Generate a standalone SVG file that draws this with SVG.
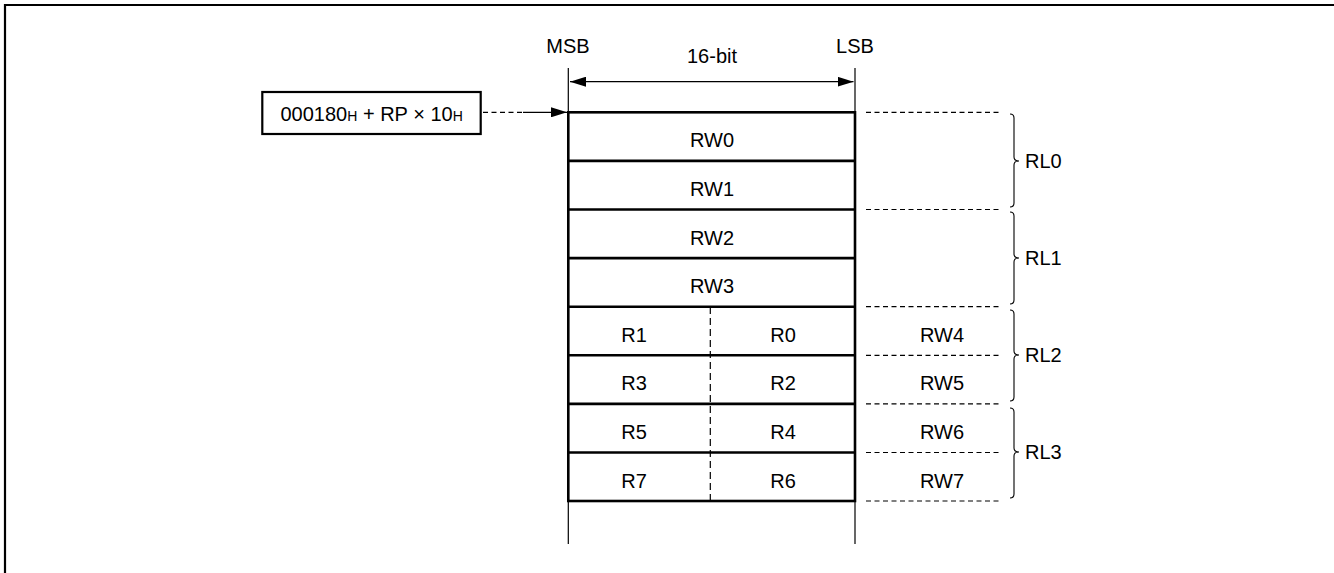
<svg xmlns="http://www.w3.org/2000/svg" width="1334" height="573" viewBox="0 0 1334 573">
<defs>
<style>
text{font-family:"Liberation Sans",Arial,sans-serif;font-size:20px;fill:#000}
.c{text-anchor:middle}
.thin{stroke:#000;stroke-width:1.2;fill:none}
.thick{stroke:#000;stroke-width:2.6;fill:none}
.dash{stroke:#000;stroke-width:1.2;stroke-dasharray:5 3.5;fill:none}
.vdash{stroke:#000;stroke-width:1.2;stroke-dasharray:7 4;fill:none}
.brace{stroke:#000;stroke-width:1.1;fill:none}
.sub{font-size:14px}
</style>
<marker id="ah" viewBox="0 0 16 10" refX="16" refY="5" markerWidth="16" markerHeight="10" markerUnits="userSpaceOnUse" orient="auto-start-reverse">
<path d="M0,0 L16,5 L0,10 Z" fill="#000"/>
</marker>
</defs>
<rect width="1334" height="573" fill="#fff"/>
<path d="M5,580 L5,5 L1340,5" stroke="#000" stroke-width="2.2" fill="none"/>

<g id="frame-lines">
<line class="thin" x1="568.3" y1="68" x2="568.3" y2="544"/>
<line class="thin" x1="855" y1="68" x2="855" y2="544"/>
<text x="568" y="53" class="c">MSB</text>
<text x="855" y="53" class="c">LSB</text>
<text x="712" y="63" class="c">16-bit</text>
</g>

<g id="address">
<rect x="262.3" y="92" width="218.4" height="42" fill="#fff" stroke="#000" stroke-width="2.2"/>
<text x="280.5" y="121">000180<tspan class="sub">H</tspan> + RP × 10<tspan class="sub">H</tspan></text>
</g>

<g id="registers">
<rect x="568.3" y="112.3" width="286.7" height="388.7" class="thick"/>
<line class="thick" x1="568.3" y1="160.9" x2="855" y2="160.9"/>
<line class="thick" x1="568.3" y1="209.5" x2="855" y2="209.5"/>
<line class="thick" x1="568.3" y1="258.1" x2="855" y2="258.1"/>
<line class="thick" x1="568.3" y1="306.7" x2="855" y2="306.7"/>
<line class="thick" x1="568.3" y1="355.3" x2="855" y2="355.3"/>
<line class="thick" x1="568.3" y1="403.9" x2="855" y2="403.9"/>
<line class="thick" x1="568.3" y1="452.5" x2="855" y2="452.5"/>
<line class="vdash" x1="710.3" y1="307" x2="710.3" y2="501"/>
<text x="712" y="147.3" class="c">RW0</text>
<text x="712" y="195.9" class="c">RW1</text>
<text x="712" y="244.5" class="c">RW2</text>
<text x="712" y="293.1" class="c">RW3</text>
<text x="634" y="341.7" class="c">R1</text>
<text x="783" y="341.7" class="c">R0</text>
<text x="634" y="390.3" class="c">R3</text>
<text x="783" y="390.3" class="c">R2</text>
<text x="634" y="438.9" class="c">R5</text>
<text x="783" y="438.9" class="c">R4</text>
<text x="634" y="487.5" class="c">R7</text>
<text x="783" y="487.5" class="c">R6</text>
</g>

<g id="word-labels">
<line class="dash" x1="866" y1="112.3" x2="1000" y2="112.3"/>
<line class="dash" x1="866" y1="209.5" x2="1000" y2="209.5"/>
<line class="dash" x1="866" y1="306.7" x2="1000" y2="306.7"/>
<line class="dash" x1="866" y1="355.3" x2="1000" y2="355.3"/>
<line class="dash" x1="866" y1="403.9" x2="1000" y2="403.9"/>
<line class="dash" x1="866" y1="452.5" x2="1000" y2="452.5"/>
<line class="dash" x1="866" y1="501" x2="1000" y2="501"/>
<text x="942" y="341.7" class="c">RW4</text>
<text x="942" y="390.3" class="c">RW5</text>
<text x="942" y="438.9" class="c">RW6</text>
<text x="942" y="487.5" class="c">RW7</text>
</g>

<g id="long-labels">
<path class="brace" d="M1010,114 Q1014,114 1014,118 L1014,157 Q1014,161 1019,161 Q1014,161 1014,165 L1014,203 Q1014,207 1010,207"/>
<path class="brace" d="M1010,212 Q1014,212 1014,216 L1014,254 Q1014,258 1019,258 Q1014,258 1014,262 L1014,300 Q1014,304 1010,304"/>
<path class="brace" d="M1010,310 Q1014,310 1014,314 L1014,351 Q1014,355 1019,355 Q1014,355 1014,359 L1014,397 Q1014,401 1010,401"/>
<path class="brace" d="M1010,408 Q1014,408 1014,412 L1014,448 Q1014,452 1019,452 Q1014,452 1014,456 L1014,494 Q1014,498 1010,498"/>
<text x="1025" y="168">RL0</text>
<text x="1025" y="265">RL1</text>
<text x="1025" y="362">RL2</text>
<text x="1025" y="459">RL3</text>
</g>

<g id="connectors">
<line class="thin" x1="570" y1="81.7" x2="853.5" y2="81.7" marker-start="url(#ah)" marker-end="url(#ah)"/>
<line class="dash" x1="483" y1="112.3" x2="523" y2="112.3"/>
<line class="thin" x1="523" y1="112.3" x2="567" y2="112.3" marker-end="url(#ah)"/>
</g>
</svg>
